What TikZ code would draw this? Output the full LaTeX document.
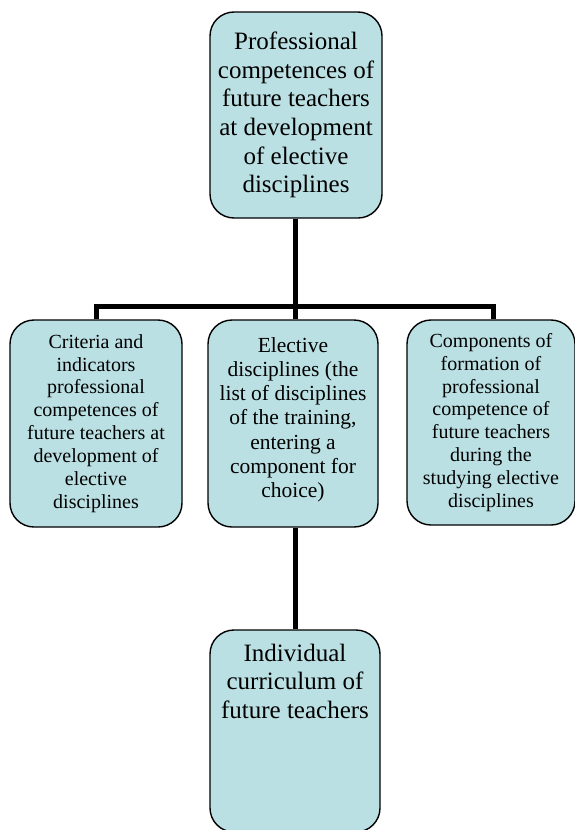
\documentclass[tikz,border=0pt]{standalone}
\usepackage{fontspec}
\setmainfont{Liberation Serif}
\usepackage{xcolor}
\definecolor{boxblue}{HTML}{BBE0E3}

\begin{document}
\begin{tikzpicture}[x=1pt,y=-1pt,
    box/.style={draw=black, line width=1.4pt, fill=boxblue, rounded corners=24pt,
        align=center, inner sep=2pt},
    big/.style={font=\fontsize{25}{28.6}\selectfont},
    mid/.style={font=\fontsize{21.5}{24.2}\selectfont},
    small/.style={font=\fontsize{20}{22.9}\selectfont},
    link/.style={line width=5pt}]
    \useasboundingbox (0,0) rectangle (575,830);
    %画布(bounding box)大小与原图一致
    \node[box, big, minimum width=172, minimum height=206] (top) at (296,115)
        {Professional\\competences of\\future teachers\\at development\\of elective\\disciplines};
    %顶部方框(top)
    \node[box, small, minimum width=172, minimum height=207] (crit) at (96,423.5)
        {Criteria and\\indicators\\professional\\competences of\\future teachers at\\development of\\elective\\disciplines};
    \node[box, mid, minimum width=170, minimum height=207] (elect) at (293,423.5)
        {Elective\\disciplines (the\\list of disciplines\\of the training,\\entering a\\component for\\choice)\\[-12pt]\mbox{}};
    \node[box, small, minimum width=168, minimum height=205] (comp) at (491,422.5)
        {Components of\\formation of\\professional\\competence of\\future teachers\\during the\\studying elective\\disciplines};
    %中间一行三个方框(crit, elect, comp)
    \node[box, big, minimum width=170, minimum height=202] (indiv) at (295,731)
        {Individual\\curriculum of\\future teachers\\[71pt]\mbox{}};
    %底部方框(indiv)
    \coordinate (bar) at (295,306);
    \coordinate (barR) at (493,306);
    %横线上的点(bar, barR)
    \draw[link] (top.south -| bar) -- (bar |- elect.north);
    \draw[link] (crit.north) |- (barR) -- (barR |- comp.north);
    \draw[link] (bar |- elect.south) -- (bar |- indiv.north);
    %连线(link): 顶部到中间一行, 中间到底部
\end{tikzpicture}
\end{document}
